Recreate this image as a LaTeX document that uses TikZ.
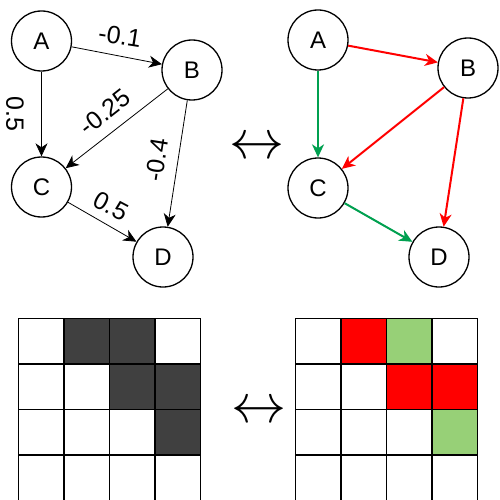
\documentclass[tikz,border=0pt]{standalone}
\usepackage{fontspec}
\usepackage{graphicx}
\setmainfont{Liberation Sans}
\usetikzlibrary{arrows.meta}
\definecolor{cellgrey}{HTML}{404040}
\definecolor{cellred}{HTML}{FF0000}
\definecolor{cellgreen}{HTML}{97D077}
\definecolor{edgegreen}{HTML}{00A050}
\begin{document}
\begin{tikzpicture}[x=1pt,y=-1pt,
  vtx/.style={circle,draw,line width=1.3pt,minimum size=60pt,inner sep=0pt,
    font=\fontsize{24}{24}\selectfont},
  tip/.style={-{Stealth[length=13pt,width=12pt,inset=4pt]}},
  plain/.style={tip,line width=0.8pt},
  hot/.style={tip,line width=2pt,draw=cellred},
  cool/.style={tip,line width=2pt,draw=edgegreen},
  wlab/.style={font=\fontsize{25}{25}\selectfont,inner sep=0pt},
  equiv/.style={inner sep=0pt},
  cell/.style={line width=1.3pt},
]
\useasboundingbox (0,0) rectangle (499,500);
\clip (0,0) rectangle (499,500);
\fill[white] (0,0) rectangle (499,500);

% weighted graph
\node[vtx] (a1) at (41.5,41) {A};
\node[vtx] (b1) at (192,70) {B};
\node[vtx] (c1) at (41.5,187) {C};
\node[vtx] (d1) at (163,257) {D};
\draw[plain] (a1) -- (b1);
\draw[plain] (a1) -- (c1);
\draw[plain] (b1) -- (c1);
\draw[plain] (b1) -- (d1);
\draw[plain] (c1) -- (d1);
\node[wlab,rotate=-9] (w1) at (120,36) {-0.1};
\node[wlab,rotate=-90] (w2) at (15,114) {0.5};
\node[wlab,rotate=38] (w3) at (105,112) {-0.25};
\node[wlab,rotate=81] (w4) at (157,160) {-0.4};
\node[wlab,rotate=-28] (w5) at (111,206) {0.5};

% signed graph
\node[vtx] (a2) at (318,40) {A};
\node[vtx] (b2) at (468,68) {B};
\node[vtx] (c2) at (318,188) {C};
\node[vtx] (d2) at (439,257) {D};
\draw[hot] (a2) -- (b2);
\draw[cool] (a2) -- (c2);
\draw[hot] (b2) -- (c2);
\draw[hot] (b2) -- (d2);
\draw[cool] (c2) -- (d2);

\node[equiv] (e1) at (257,148) {\scalebox{5.5}{$\leftrightarrow$}};
\node[equiv] (e2) at (259,412) {\scalebox{5.5}{$\leftrightarrow$}};

% adjacency grids
\begin{scope}[shift={(18.3,318.3)}]
  \foreach \c/\r in {1/0,2/0,2/1,3/1,3/2}
    \fill[cellgrey] (\c*45.6,\r*45.6) rectangle ++(45.6,45.6);
  \foreach \i in {0,...,4} \draw[cell] (\i*45.6,0) -- (\i*45.6,200);
  \foreach \j in {0,...,4} \draw[cell] (0,\j*45.6) -- (182.4,\j*45.6);
\end{scope}
\begin{scope}[shift={(295.7,318.3)}]
  \foreach \c/\r in {1/0,2/1,3/1}
    \fill[cellred] (\c*45.4,\r*45.6) rectangle ++(45.4,45.6);
  \foreach \c/\r in {2/0,3/2}
    \fill[cellgreen] (\c*45.4,\r*45.6) rectangle ++(45.4,45.6);
  \foreach \i in {0,...,4} \draw[cell] (\i*45.4,0) -- (\i*45.4,200);
  \foreach \j in {0,...,4} \draw[cell] (0,\j*45.6) -- (181.6,\j*45.6);
\end{scope}
\end{tikzpicture}
\end{document}
